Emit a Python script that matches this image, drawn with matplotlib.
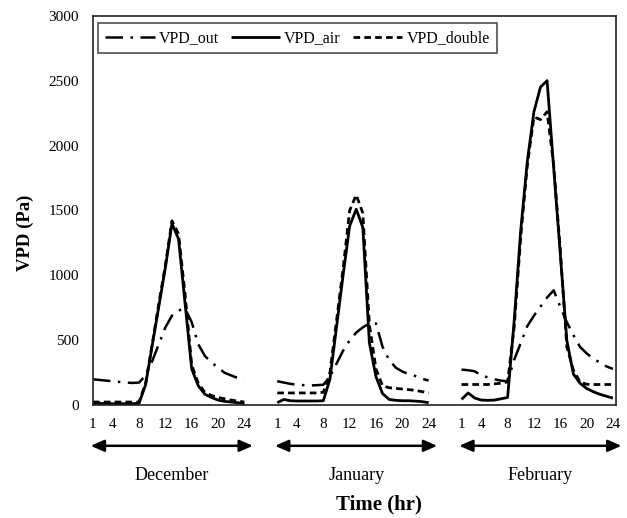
import matplotlib
matplotlib.use('Agg')
import numpy as np
import matplotlib.pyplot as plt
from matplotlib.transforms import blended_transform_factory

plt.rcParams['font.family'] = ['Liberation Serif', 'DejaVu Serif']

hours = list(range(1, 25))
tick_hours = [1, 4, 8, 12, 16, 20, 24]
months = ['December', 'January', 'February']

# VPD (Pa) per hour
dec_out = [200, 195, 190, 185, 180, 175, 172, 175, 230, 340, 470, 600,
           690, 730, 745, 640, 470, 380, 330, 290, 250, 230, 210, 200]
dec_air = [15, 14, 13, 12, 12, 12, 12, 15, 160, 460, 760, 1060,
           1400, 1280, 780, 280, 150, 85, 60, 40, 30, 25, 20, 12]
dec_double = [25, 25, 25, 25, 25, 25, 25, 25, 170, 470, 780, 1080,
              1420, 1320, 850, 310, 170, 100, 75, 60, 50, 40, 32, 25]

jan_out = [185, 175, 165, 158, 155, 152, 155, 158, 220, 320, 420, 500,
           560, 600, 630, 630, 450, 350, 290, 260, 240, 225, 205, 190]
jan_air = [20, 45, 35, 33, 33, 33, 33, 35, 200, 600, 1000, 1380,
           1510, 1370, 480, 220, 90, 45, 38, 35, 35, 32, 28, 20]
jan_double = [95, 95, 95, 95, 95, 95, 95, 100, 250, 650, 1050, 1500,
              1620, 1480, 620, 280, 150, 135, 130, 125, 120, 115, 105, 95]

feb_out = [275, 270, 262, 230, 215, 200, 190, 185, 350, 480, 610, 690,
           760, 830, 885, 760, 640, 540, 450, 400, 360, 330, 300, 280]
feb_air = [45, 95, 56, 40, 38, 40, 50, 60, 650, 1350, 1880, 2260,
           2450, 2500, 1830, 1170, 500, 240, 170, 130, 105, 85, 70, 55]
feb_double = [160, 160, 160, 160, 160, 165, 170, 180, 600, 1300, 1850, 2220,
              2200, 2260, 1850, 1200, 450, 270, 180, 162, 160, 160, 160, 160]

out_series = [dec_out, jan_out, feb_out]
air_series = [dec_air, jan_air, feb_air]
double_series = [dec_double, jan_double, feb_double]

step = 28  # 24 hours + 4 empty slots between months

fig = plt.figure(figsize=(6.27, 5.18), dpi=100)
ax = fig.add_axes([0.1483, 0.2176, 0.8334, 0.7521])

styles = [
    ('VPD_out', out_series, dict(linestyle=(0, (7, 3, 1, 3)), lw=1.8)),
    ('VPD_air', air_series, dict(linestyle='-', lw=2.0)),
    ('VPD_double', double_series, dict(linestyle=(0, (2.4, 1.5)), lw=2.0)),
]

for name, series, st in styles:
    for m, vals in enumerate(series):
        x = np.array(hours) - 1 + m * step
        ax.plot(x, vals, color='black', label=name if m == 0 else None,
                solid_capstyle='butt', dash_capstyle='butt', **st)

ax.set_xlim(0, 79.4)
ax.set_ylim(0, 3000)
ax.set_yticks(np.arange(0, 3001, 500))
ticks = []
labels = []
for m in range(len(months)):
    for h in tick_hours:
        ticks.append(h - 1 + m * step)
        labels.append(str(h))
ax.set_xticks(ticks)
ax.set_xticklabels(labels)
ax.tick_params(axis='both', length=0, labelsize=11)
ax.tick_params(axis='y', pad=10)
ax.tick_params(axis='x', pad=9)
for s in ax.spines.values():
    s.set_linewidth(1.2)
    s.set_color('#222222')

# month arrows and labels below the axis
tr = blended_transform_factory(ax.transData, ax.transAxes)
for m, name in enumerate(months):
    x0 = m * step - 0.35
    x1 = m * step + 24.3
    ax.annotate('', xy=(x0, -0.104), xytext=(x1, -0.104), xycoords=tr,
                textcoords=tr, annotation_clip=False,
                arrowprops=dict(arrowstyle='<|-|>,head_length=0.8,head_width=0.35',
                                color='black', lw=1.8, shrinkA=0, shrinkB=0))
    ax.text(m * step + 12, -0.18, name, transform=tr, ha='center',
            va='center', fontsize=13)

fig.text(0.6045, 0.027, 'Time (hr)', ha='center', va='center',
         fontsize=15, fontweight='bold')
fig.text(0.040, 0.55, 'VPD (Pa)', ha='center', va='center', rotation=90,
         fontsize=13.5, fontweight='bold')

leg = ax.legend(loc='upper left', bbox_to_anchor=(0.0096, 0.981),
                borderaxespad=0, ncol=3, fontsize=11.5, frameon=True,
                fancybox=False, edgecolor='#222222', handlelength=3.1,
                handletextpad=0.25, columnspacing=0.75, borderpad=0.45)
leg.get_frame().set_linewidth(1.2)

fig.savefig('out.png', dpi=100)
